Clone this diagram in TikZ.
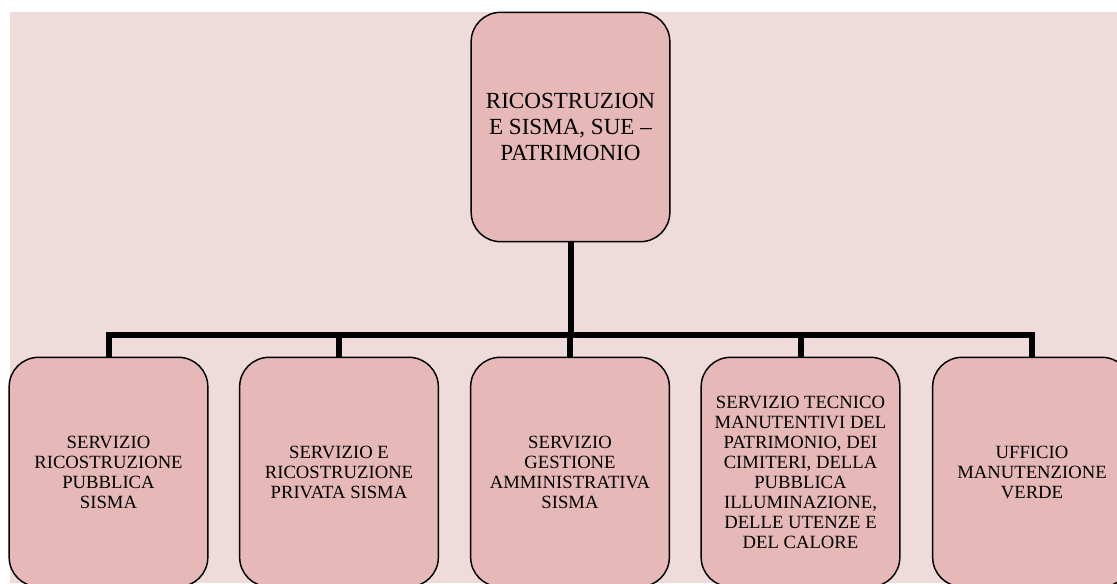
\documentclass[tikz,border=0pt]{standalone}
\usepackage{fontspec}
\setmainfont{Liberation Serif}
\usetikzlibrary{positioning}
\definecolor{sfondo}{HTML}{F0DBDB}
\definecolor{riquadro}{HTML}{E6B8B7}

\begin{document}
\begin{tikzpicture}[x=0.75pt,y=-0.75pt,
	ufficio/.style={draw=black,line width=1.1pt,fill=riquadro,rounded corners=22pt,
		minimum width=149pt,minimum height=172pt,inner sep=0pt,align=center,
		font=\fontsize{14}{15}\selectfont},
	capo/.style={ufficio,font=\fontsize{17.3}{19.5}\selectfont},
	ramo/.style={line width=4.5pt}]
	\clip (0,0) rectangle (1117,583);
	\fill[sfondo] (10,12) rectangle (1117,583);
	% direzione
	\node[capo] (dir) at (570.5,127) {RICOSTRUZION\\E SISMA, SUE --\\PATRIMONIO};
	% servizi
	\node[ufficio] (s1) at (108.5,472) {SERVIZIO\\RICOSTRUZIONE\\PUBBLICA\\SISMA};
	\node[ufficio] (s2) at (339,472) {SERVIZIO E\\RICOSTRUZIONE\\PRIVATA SISMA};
	\node[ufficio] (s3) at (570,472) {SERVIZIO\\GESTIONE\\AMMINISTRATIVA\\SISMA};
	\node[ufficio] (s4) at (800.5,472) {SERVIZIO TECNICO\\MANUTENTIVI DEL\\PATRIMONIO, DEI\\CIMITERI, DELLA\\PUBBLICA\\ILLUMINAZIONE,\\DELLE UTENZE E\\DEL CALORE};
	\node[ufficio] (s5) at (1032,472) {UFFICIO\\MANUTENZIONE\\VERDE};
	\coordinate (bar) at (570,334.5);
	\draw[ramo] (dir.south) -- (dir.south |- bar);
	\draw[ramo] (s1.north) |- (bar) -| (s5.north);
	\foreach \s in {s2,s3,s4}
	\draw[ramo] (\s.north) -- (\s.north |- bar);
\end{tikzpicture}
\end{document}
